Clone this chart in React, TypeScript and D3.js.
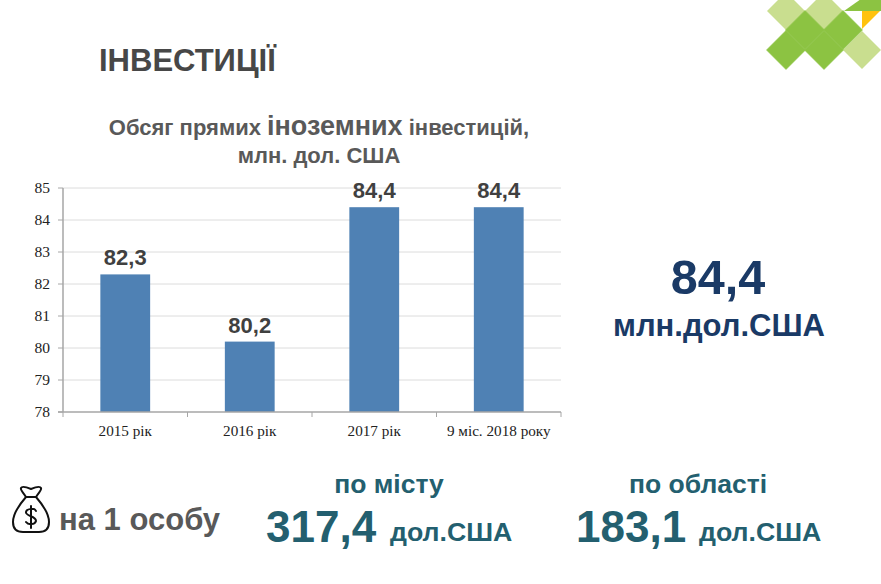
import React from "react";
import * as d3 from "d3";

const categories = ["2015 рік", "2016 рік", "2017 рік", "9 міс. 2018 року"];
const values = [82.3, 80.2, 84.4, 84.4];
const valueLabels = ["82,3", "80,2", "84,4", "84,4"];
const yTicks = [78, 79, 80, 81, 82, 83, 84, 85];

const W = 881, H = 584;
const sans = "'Liberation Sans', Arial, sans-serif";
const serif = "'Liberation Serif', 'Times New Roman', serif";
const teal = "#235f6f";

const x = d3.scaleBand<string>().domain(categories).range([63, 561]).paddingInner(0.6).paddingOuter(0.3);
const y = d3.scaleLinear().domain([78, 85]).range([412, 188]);

const lightDiamonds = [[786, 11], [824, 11], [862, 50]];
const darkDiamonds = [[805, 30], [786, 50], [824, 50], [843, 30]];
const diamond = (c: number[], r = 19) => `M${c[0]},${c[1] - r}L${c[0] + r},${c[1]}L${c[0]},${c[1] + r}L${c[0] - r},${c[1]}Z`;

export default function App() {
  const edges = categories.map((_, i) => 63 + (i * 498) / 4).concat(561);
  return (
    <svg width={W} height={H} style={{ position: "absolute", left: 0, top: 0, background: "#fff" }}>
      {lightDiamonds.map((c, i) => <path key={i} d={diamond(c)} fill="#c9de8f" />)}
      {darkDiamonds.map((c, i) => <path key={i} d={diamond(c, 19.5)} fill="#8cc342" stroke="#8cc342" strokeWidth={0.6} />)}
      <path d="M844,11L861,-1L881,-1L881,11Z" fill="#8cc342" />
      <path d="M862,11L880,11L862,29Z" fill="#ffc20e" />

      <text x={99} y={71} fontFamily={sans} fontWeight={700} fontSize={31} fill="#474747">ІНВЕСТИЦІЇ</text>
      <text x={319} y={135} textAnchor="middle" fontFamily={sans} fontWeight={700} fontSize={22} fill="#595959">
        Обсяг прямих <tspan fontSize={27}>іноземних</tspan> інвестицій,
      </text>
      <text x={319} y={163} textAnchor="middle" fontFamily={sans} fontWeight={700} fontSize={22} fill="#595959">млн. дол. США</text>

      {yTicks.slice(1).map(t => <line key={t} x1={63} x2={561} y1={y(t)} y2={y(t)} stroke="#dcdcdc" strokeWidth={1} />)}
      {values.map((v, i) => (
        <rect key={i} x={x(categories[i])} y={y(v)} width={x.bandwidth()} height={412 - y(v)} fill="#4f81b4" />
      ))}
      <line x1={63} x2={63} y1={188} y2={412} stroke="#a6a6a6" strokeWidth={1.5} />
      <line x1={58} x2={561} y1={412} y2={412} stroke="#a6a6a6" strokeWidth={1.5} />
      {yTicks.map(t => (
        <g key={t}>
          <line x1={58} x2={63} y1={y(t)} y2={y(t)} stroke="#a6a6a6" />
          <text x={50} y={y(t) + 5} textAnchor="end" fontFamily={serif} fontSize={15.5} fill="#222">{t}</text>
        </g>
      ))}
      {edges.map((e, i) => <line key={i} x1={e} x2={e} y1={412} y2={417} stroke="#a6a6a6" />)}
      {categories.map(c => (
        <text key={c} x={x(c)! + x.bandwidth() / 2} y={436} textAnchor="middle" fontFamily={serif} fontSize={15.2} fill="#222">{c}</text>
      ))}
      {values.map((v, i) => (
        <text key={i} x={x(categories[i])! + x.bandwidth() / 2} y={y(v) - 9} textAnchor="middle" fontFamily={sans} fontWeight={700} fontSize={22} fill="#404040">{valueLabels[i]}</text>
      ))}

      <text x={718} y={294} textAnchor="middle" fontFamily={sans} fontWeight={700} fontSize={48.5} fill="#1a3a66">84,4</text>
      <text x={719} y={336} textAnchor="middle" fontFamily={sans} fontWeight={700} fontSize={31} fill="#1a3a66">млн.дол.США</text>

      <g fill="none" stroke="#111" strokeWidth={2} strokeLinejoin="round" strokeLinecap="round">
        <path d="M26,497C23,492 20,490 21,488C22,486 26,487 31,489C36,487 40,486 41,488C42,490 39,492 36,497Z" />
        <path d="M26,497C19,505 13,513 13,522C13,529 17,532 23,532L39,532C45,532 49,529 49,522C49,513 43,505 36,497" />
        <path d="M36,511C35,508 27,508 26,512C25,516 36,516 36,521C35,525 28,525 26,522M31,506L31,528" />
      </g>
      <text x={59} y={530} fontFamily={sans} fontWeight={700} fontSize={31} fill="#595959">на 1 особу</text>

      <text x={389} y={493} textAnchor="middle" fontFamily={sans} fontWeight={700} fontSize={26.5} fill={teal}>по місту</text>
      <text x={266} y={542} fontFamily={sans} fontWeight={700} fontSize={44} fill={teal}>317,4</text>
      <text x={390} y={541} fontFamily={sans} fontWeight={700} fontSize={26.7} fill={teal}>дол.США</text>

      <text x={698} y={493} textAnchor="middle" fontFamily={sans} fontWeight={700} fontSize={26.5} fill={teal}>по області</text>
      <text x={576} y={542} fontFamily={sans} fontWeight={700} fontSize={44} fill={teal}>183,1</text>
      <text x={699} y={541} fontFamily={sans} fontWeight={700} fontSize={26.7} fill={teal}>дол.США</text>
    </svg>
  );
}
